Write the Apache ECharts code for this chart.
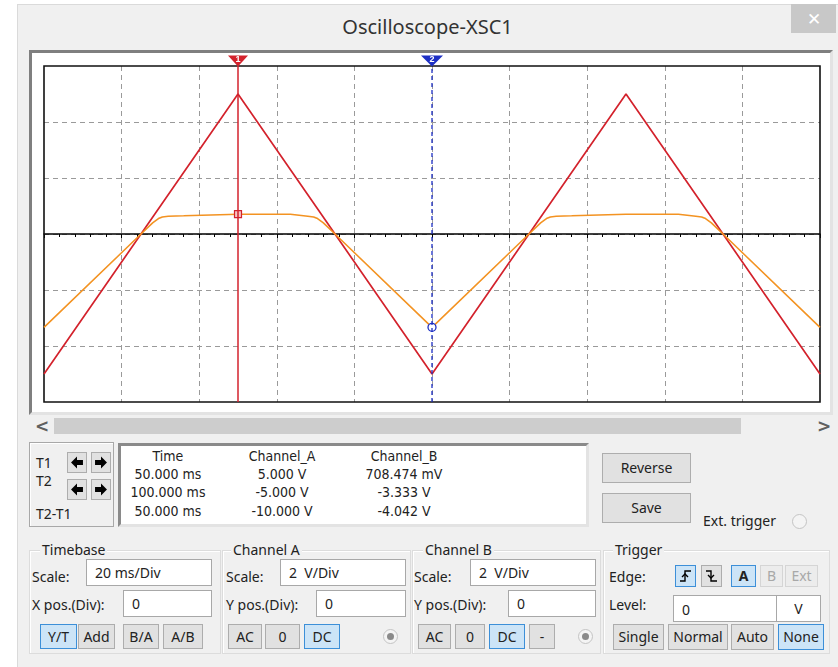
<!DOCTYPE html>
<html>
<head>
<meta charset="utf-8">
<script src="https://cdn.jsdelivr.net/npm/echarts@6/dist/echarts.min.js"></script>
<style>
  html,body{margin:0;padding:0;}
  body{width:838px;height:667px;overflow:hidden;background:#fff;position:relative;font-family:"Noto Sans","Open Sans",sans-serif;color:#222;}
  .abs{position:absolute;}
  .win{left:17px;top:4px;width:821px;height:663px;background:#f0f0f0;border-left:1px solid #dadada;border-top:1px solid #dadada;box-sizing:border-box;}
  .title{left:17px;width:821px;top:11px;height:32px;line-height:32px;text-align:center;font-size:20px;color:#333;font-family:"Noto Sans","Open Sans",sans-serif;}
  .close{left:791px;top:4px;width:45px;height:29px;background:#c8c8c8;color:#fff;font-size:17px;text-align:center;line-height:29px;}
  .panel{left:29px;top:50px;width:804px;height:365px;box-sizing:border-box;border:3px solid;border-color:#7f7f7f #e3e3e3 #e3e3e3 #7f7f7f;background:#fff;}
  #chart{left:32px;top:53px;width:798px;height:359px;}
  .thumb{left:54px;top:418px;width:687px;height:16px;background:#cdcdcd;}
  .sarrow{top:416px;font-size:17px;font-weight:bold;color:#606060;line-height:20px;font-family:"DejaVu Sans",sans-serif;}
  .tbox{left:29px;top:442px;width:85px;height:85px;box-sizing:border-box;border:1px solid #a8a8a8;box-shadow:inset 1px 1px 0 #fff;}
  .lbl{font-size:14px;line-height:18px;white-space:pre;}
  .abtn{width:20px;height:21px;box-sizing:border-box;background:#e1e1e1;border:1px solid #adadad;}
  .abtn svg{display:block;margin:3px auto 0 auto;}
  .readout{left:118px;top:443px;width:471px;height:84px;box-sizing:border-box;border:3px solid;border-color:#8a8a8a #e3e3e3 #e3e3e3 #8a8a8a;background:#fff;}
  .rc{font-size:14px;line-height:18px;text-align:center;width:130px;white-space:pre;font-family:"DejaVu Sans Condensed","DejaVu Sans",sans-serif;color:#222;}
  .btn{box-sizing:border-box;background:#e1e1e1;border:1px solid #adadad;font-size:14px;text-align:center;color:#222;}
  .btn.on{background:#cce4f7;border-color:#3c8fd8;}
  .btn.dis{background:#ececec;border-color:#d5d5d5;color:#a8a8a8;}
  .inp{box-sizing:border-box;background:#fff;border:1px solid #a8a8a8;font-size:14px;padding-left:8px;white-space:pre;}
  .grp{box-sizing:border-box;border:1px solid #dcdcdc;box-shadow:1px 1px 0 #fff inset;}
  .glbl{font-size:14px;line-height:18px;background:#f0f0f0;padding:0 2px;}
  .radio{width:15px;height:15px;border-radius:50%;box-sizing:border-box;border:1px solid #c4c4c4;background:#f4f4f4;}
  .radio .dot{position:absolute;left:3px;top:3px;width:7px;height:7px;border-radius:50%;background:#8a8a8a;}
</style>
</head>
<body>
<div class="abs win"></div>
<div class="abs title">Oscilloscope-XSC1</div>
<div class="abs close">✕</div>
<div class="abs panel"></div>
<div class="abs" id="chart"></div>
<div class="abs sarrow" style="left:35px;">&lt;</div>
<div class="abs thumb"></div>
<div class="abs sarrow" style="left:817px;">&gt;</div>

<!-- cursor controls -->
<div class="abs tbox"></div>
<div class="abs lbl" style="left:36px;top:454px;">T1</div>
<div class="abs lbl" style="left:36px;top:472px;">T2</div>
<div class="abs lbl" style="left:36px;top:505px;">T2-T1</div>
<div class="abs abtn" style="left:67px;top:452px;"><svg width="14" height="13" viewBox="0 0 12 12"><polygon points="0.5,6 6,0.5 6,3.8 11.5,3.8 11.5,8.2 6,8.2 6,11.5" fill="#000"/></svg></div>
<div class="abs abtn" style="left:91px;top:452px;"><svg width="14" height="13" viewBox="0 0 12 12"><polygon points="11.5,6 6,0.5 6,3.8 0.5,3.8 0.5,8.2 6,8.2 6,11.5" fill="#000"/></svg></div>
<div class="abs abtn" style="left:67px;top:479px;"><svg width="14" height="13" viewBox="0 0 12 12"><polygon points="0.5,6 6,0.5 6,3.8 11.5,3.8 11.5,8.2 6,8.2 6,11.5" fill="#000"/></svg></div>
<div class="abs abtn" style="left:91px;top:479px;"><svg width="14" height="13" viewBox="0 0 12 12"><polygon points="11.5,6 6,0.5 6,3.8 0.5,3.8 0.5,8.2 6,8.2 6,11.5" fill="#000"/></svg></div>

<div class="abs readout"></div>
<div id="readoutCols"></div>

<div class="abs btn" style="left:602px;top:453px;width:89px;height:30px;line-height:28px;">Reverse</div>
<div class="abs btn" style="left:602px;top:493px;width:89px;height:30px;line-height:28px;">Save</div>
<div class="abs lbl" style="left:703px;top:512px;">Ext. trigger</div>
<div class="abs radio" style="left:792px;top:514px;"></div>

<!-- group boxes -->
<div class="abs grp" style="left:29px;top:550px;width:192px;height:104px;"></div>
<div class="abs grp" style="left:222px;top:550px;width:189px;height:104px;"></div>
<div class="abs grp" style="left:412px;top:550px;width:189px;height:104px;"></div>
<div class="abs grp" style="left:603px;top:550px;width:227px;height:104px;"></div>
<div class="abs glbl" style="left:40px;top:541px;">Timebase</div>
<div class="abs glbl" style="left:231px;top:541px;">Channel A</div>
<div class="abs glbl" style="left:423px;top:541px;">Channel B</div>
<div class="abs glbl" style="left:613px;top:541px;">Trigger</div>

<!-- Timebase -->
<div class="abs lbl" style="left:32px;top:568px;">Scale:</div>
<div class="abs inp" style="left:86px;top:559px;width:126px;height:27px;line-height:25px;">20 ms/Div</div>
<div class="abs lbl" style="left:32px;top:596px;">X pos.(Div):</div>
<div class="abs inp" style="left:123px;top:590px;width:89px;height:27px;line-height:25px;">0</div>
<div class="abs btn on" style="left:40px;top:624px;width:37px;height:25px;line-height:23px;">Y/T</div>
<div class="abs btn" style="left:78px;top:624px;width:37px;height:25px;line-height:23px;">Add</div>
<div class="abs btn" style="left:123px;top:624px;width:36px;height:25px;line-height:23px;">B/A</div>
<div class="abs btn" style="left:163px;top:624px;width:40px;height:25px;line-height:23px;">A/B</div>

<!-- Channel A -->
<div class="abs lbl" style="left:226px;top:568px;">Scale:</div>
<div class="abs inp" style="left:280px;top:559px;width:126px;height:27px;line-height:25px;">2  V/Div</div>
<div class="abs lbl" style="left:226px;top:596px;">Y pos.(Div):</div>
<div class="abs inp" style="left:316px;top:590px;width:90px;height:27px;line-height:25px;">0</div>
<div class="abs btn" style="left:228px;top:624px;width:34px;height:25px;line-height:23px;">AC</div>
<div class="abs btn" style="left:265px;top:624px;width:35px;height:25px;line-height:23px;">0</div>
<div class="abs btn on" style="left:304px;top:624px;width:36px;height:25px;line-height:23px;">DC</div>
<div class="abs radio" style="left:383px;top:629px;"><div class="dot"></div></div>

<!-- Channel B -->
<div class="abs lbl" style="left:414px;top:568px;">Scale:</div>
<div class="abs inp" style="left:470px;top:559px;width:126px;height:27px;line-height:25px;">2  V/Div</div>
<div class="abs lbl" style="left:414px;top:596px;">Y pos.(Div):</div>
<div class="abs inp" style="left:508px;top:590px;width:88px;height:27px;line-height:25px;">0</div>
<div class="abs btn" style="left:418px;top:624px;width:33px;height:25px;line-height:23px;">AC</div>
<div class="abs btn" style="left:455px;top:624px;width:30px;height:25px;line-height:23px;">0</div>
<div class="abs btn on" style="left:489px;top:624px;width:36px;height:25px;line-height:23px;">DC</div>
<div class="abs btn" style="left:529px;top:624px;width:26px;height:25px;line-height:23px;">-</div>
<div class="abs radio" style="left:578px;top:629px;"><div class="dot"></div></div>

<!-- Trigger -->
<div class="abs lbl" style="left:609px;top:568px;">Edge:</div>
<div class="abs btn on" style="left:675px;top:565px;width:21px;height:22px;"><svg width="13" height="14" viewBox="0 0 13 14" style="display:block;margin:3px auto 0 auto"><polyline points="1,12 6,12 6,2 12,2" fill="none" stroke="#000" stroke-width="1.4"/><polyline points="3,8 6,5 9,8" fill="none" stroke="#000" stroke-width="1.4"/></svg></div>
<div class="abs btn" style="left:701px;top:565px;width:21px;height:22px;"><svg width="13" height="14" viewBox="0 0 13 14" style="display:block;margin:3px auto 0 auto"><polyline points="1,2 6,2 6,12 12,12" fill="none" stroke="#000" stroke-width="1.4"/><polyline points="3,6 6,9 9,6" fill="none" stroke="#000" stroke-width="1.4"/></svg></div>
<div class="abs btn on" style="left:731px;top:565px;width:25px;height:22px;line-height:20px;font-weight:bold;">A</div>
<div class="abs btn dis" style="left:760px;top:565px;width:23px;height:22px;line-height:20px;">B</div>
<div class="abs btn dis" style="left:785px;top:565px;width:33px;height:22px;line-height:20px;">Ext</div>
<div class="abs lbl" style="left:609px;top:596px;">Level:</div>
<div class="abs inp" style="left:673px;top:595px;width:104px;height:27px;line-height:27px;">0</div>
<div class="abs inp" style="left:776px;top:595px;width:45px;height:27px;line-height:25px;padding-left:0;text-align:center;">V</div>
<div class="abs btn" style="left:613px;top:624px;width:51px;height:26px;line-height:24px;">Single</div>
<div class="abs btn" style="left:668px;top:624px;width:60px;height:26px;line-height:24px;">Normal</div>
<div class="abs btn" style="left:731px;top:624px;width:43px;height:26px;line-height:24px;">Auto</div>
<div class="abs btn on" style="left:778px;top:624px;width:46px;height:26px;line-height:24px;">None</div>

<script>
// ---- data ----
// Channel A (red triangle wave): vertices, time in ms, value in V
const timeA = [0, 50, 100, 150, 200];
const voltA = [-5, 5, -5, 5, -5];
// Channel B (orange, clipped wave): vertices, time in ms, value in V
const timeB = [0, 25, 28, 29.5, 30.5, 32, 36, 36.5, 50, 63.5, 64, 68, 69.5, 70.5, 72, 75,
               100, 125, 128, 129.5, 130.5, 132, 136, 136.5, 150, 163.5, 164, 168, 169.5, 170.5, 172, 175, 200];
const voltB = [-3.333, 0, 0.4, 0.55, 0.61, 0.635, 0.65, 0.708, 0.708, 0.708, 0.65, 0.635, 0.61, 0.55, 0.4, 0,
               -3.333, 0, 0.4, 0.55, 0.61, 0.635, 0.65, 0.708, 0.708, 0.708, 0.65, 0.635, 0.61, 0.55, 0.4, 0, -3.333];
// cursors
const cursorTimes = [50, 100];
const cursorChB = [0.708474, -3.333];
// axis setup: 20 ms/Div x 10 div, 2 V/Div x 6 div
const xMin = 0, xMax = 200, xDiv = 20;
const yMin = -6, yMax = 6, yDiv = 2;
// readout table
const readHeaders = ['Time', 'Channel_A', 'Channel_B'];
const readT1 = ['50.000 ms', '5.000 V', '708.474 mV'];
const readT2 = ['100.000 ms', '-5.000 V', '-3.333 V'];
const readDT = ['50.000 ms', '-10.000 V', '-4.042 V'];

// readout text
(function(){
  const colCenters = [168, 282, 404];
  const rowTops = [447, 465, 483, 502];
  const rows = [readHeaders, readT1, readT2, readDT];
  const host = document.getElementById('readoutCols');
  rows.forEach((r, ri) => r.forEach((txt, ci) => {
    const d = document.createElement('div');
    d.className = 'abs rc';
    d.style.left = (colCenters[ci] - 65) + 'px';
    d.style.top = rowTops[ri] + 'px';
    d.textContent = txt;
    host.appendChild(d);
  }));
})();

const RED = '#d3222c', ORANGE = '#f39322', BLUE = '#1d2fc4';
const chart = echarts.init(document.getElementById('chart'), null, {renderer: 'canvas'});
chart.setOption({
  animation: false,
  backgroundColor: 'transparent',
  grid: {left: 12, top: 13, width: 776, height: 336, show: true, borderColor: '#111', borderWidth: 1.6, backgroundColor: 'transparent', z: 3},
  xAxis: {
    type: 'value', min: xMin, max: xMax, interval: xDiv,
    axisLine: {show: true, onZero: true, lineStyle: {color: '#000', width: 1.5}},
    axisTick: {show: true, length: 4, lineStyle: {color: '#000', width: 1}},
    minorTick: {show: true, splitNumber: 5, length: 3, lineStyle: {color: '#000', width: 1}},
    axisLabel: {show: false},
    splitLine: {show: true, showMinLine: false, showMaxLine: false, lineStyle: {color: '#9a9a9a', width: 1, type: [5, 4]}}
  },
  yAxis: {
    type: 'value', min: yMin, max: yMax, interval: yDiv,
    axisLine: {show: false}, axisTick: {show: false}, axisLabel: {show: false},
    splitLine: {show: true, showMinLine: false, showMaxLine: false, lineStyle: {color: '#9a9a9a', width: 1, type: [5, 4]}}
  },
  series: [
    {
      name: 'Channel_A', type: 'line', symbol: 'none', z: 3,
      data: timeA.map((t, i) => [t, voltA[i]]),
      lineStyle: {color: RED, width: 1.7}
    },
    {
      name: 'Channel_B', type: 'line', symbol: 'none', z: 4,
      data: timeB.map((t, i) => [t, voltB[i]]),
      lineStyle: {color: ORANGE, width: 1.6}
    },
    {
      name: 'T1', type: 'line', symbol: 'none', z: 5, clip: false,
      data: [[cursorTimes[0], yMin], [cursorTimes[0], yMax]],
      lineStyle: {color: RED, width: 1.5},
      markPoint: {
        silent: true,
        data: [
          {coord: [cursorTimes[0], yMax], symbol: 'path://M0,0 L20,0 L10,11 Z', symbolSize: [20, 11], symbolOffset: [0, -5],
           itemStyle: {color: RED}, label: {show: true, formatter: '1', color: '#fff', fontSize: 9, fontWeight: 'bold', offset: [0, -1]}},
          {coord: [cursorTimes[0], cursorChB[0]], symbol: 'rect', symbolSize: 7,
           itemStyle: {color: '#f7c4c4', borderColor: RED, borderWidth: 1.2}, label: {show: false}}
        ]
      }
    },
    {
      name: 'T2', type: 'line', symbol: 'none', z: 5, clip: false,
      data: [[cursorTimes[1], yMin], [cursorTimes[1], yMax]],
      lineStyle: {color: BLUE, width: 1.3, type: [4, 3]},
      markPoint: {
        silent: true,
        data: [
          {coord: [cursorTimes[1], yMax], symbol: 'path://M0,0 L20,0 L10,11 Z', symbolSize: [22, 11], symbolOffset: [0, -5],
           itemStyle: {color: BLUE}, label: {show: true, formatter: '2', color: '#fff', fontSize: 9, fontWeight: 'bold', offset: [0, -1]}},
          {coord: [cursorTimes[1], cursorChB[1]], symbol: 'circle', symbolSize: 8,
           itemStyle: {color: '#fff', borderColor: BLUE, borderWidth: 1.3}, label: {show: false}}
        ]
      }
    }
  ]
});
</script>
</body>
</html>
